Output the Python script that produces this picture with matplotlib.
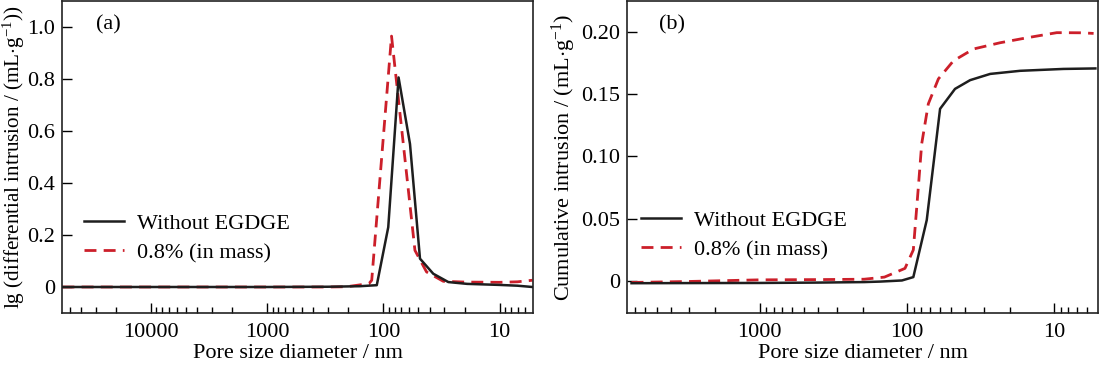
import matplotlib
matplotlib.use("Agg")
import matplotlib.pyplot as plt
from matplotlib.ticker import FixedLocator, FuncFormatter, LogLocator, NullFormatter

plt.rcParams['font.family'] = ['Liberation Serif', 'DejaVu Serif']
plt.rcParams['mathtext.fontset'] = 'custom'
plt.rcParams['mathtext.rm'] = 'Liberation Serif'
plt.rcParams['mathtext.it'] = 'Liberation Serif:italic'

# ---- data: panel (a) differential intrusion ----
a_black_x = [58000, 20000, 5000, 1000, 300, 160, 114, 90.8, 74, 59, 48.4, 37.2, 27.6, 19, 10, 7, 5.2]
a_black_y = [0, 0, 0, 0, 0.001, 0.003, 0.007, 0.23, 0.806, 0.55, 0.109, 0.051, 0.019, 0.012, 0.008, 0.005, 0.0]
a_red_x = [58000, 20000, 5000, 1000, 300, 208, 133, 126, 85.1, 53.5, 42.5, 30.5, 20, 10, 7, 5.2]
a_red_y = [0, 0, 0, 0, 0, 0.001, 0.013, 0.026, 0.965, 0.141, 0.058, 0.022, 0.019, 0.018, 0.02, 0.026]

# ---- data: panel (b) cumulative intrusion ----
b_black_x = [7400, 3000, 1000, 400, 195, 152, 108, 90.4, 73.3, 59.5, 47.1, 37.2, 27.2, 17, 8.65, 5.25]
b_black_y = [-0.0019, -0.0018, -0.0017, -0.0014, -0.001, -0.0006, 0.0003, 0.003, 0.0487, 0.138, 0.154, 0.161, 0.166, 0.1685, 0.170, 0.1704]
b_red_x = [7400, 3000, 1000, 400, 195, 142, 103, 90.4, 83.6, 79.3, 71.5, 61.1, 48.3, 35.3, 23.3, 15.3, 9.6, 6.67, 5.4]
b_red_y = [-0.0013, -0.0005, 0.0008, 0.001, 0.0013, 0.003, 0.010, 0.0248, 0.075, 0.11, 0.142, 0.162, 0.1765, 0.186, 0.191, 0.195, 0.1991, 0.199, 0.1985]

labels = ["Without EGDGE", "0.8% (in mass)"]
a_xticks = [10000, 1000, 100, 10]
b_xticks = [1000, 100, 10]
a_yticks = [0, 0.2, 0.4, 0.6, 0.8, 1.0]
b_yticks = [0, 0.05, 0.10, 0.15, 0.20]

BLACK = '#1e1e1e'
RED = '#cc1f2a'
FS = 16

fig = plt.figure(figsize=(11, 3.65), dpi=100)
ax1 = fig.add_axes([62/1100, 1-313/365, 471/1100, 312/365])
ax2 = fig.add_axes([627/1100, 1-313/365, 471/1100, 312/365])


def fmt_a(v, pos):
    return "0" if abs(v) < 1e-9 else f"{v:.1f}"


def fmt_b(v, pos):
    return "0" if abs(v) < 1e-9 else f"{v:.2f}"


def style(ax, xlim, ylim, xticks, yticks, yfmt):
    ax.set_xscale('log')
    ax.set_xlim(*xlim)
    ax.set_ylim(*ylim)
    ax.xaxis.set_major_locator(FixedLocator(xticks))
    ax.xaxis.set_major_formatter(FuncFormatter(lambda v, p: f"{int(round(v))}"))
    ax.xaxis.set_minor_locator(LogLocator(base=10, subs=range(2, 10), numticks=20))
    ax.xaxis.set_minor_formatter(NullFormatter())
    ax.yaxis.set_major_locator(FixedLocator(yticks))
    ax.yaxis.set_major_formatter(FuncFormatter(yfmt))
    ax.tick_params(axis='both', which='major', direction='in', length=7, width=1,
                   labelsize=FS, pad=5, top=False, right=False)
    ax.tick_params(axis='x', which='major', pad=7)
    ax.tick_params(axis='x', which='minor', direction='in', length=4, width=1, top=False)
    ax.tick_params(axis='y', which='minor', left=False, right=False)
    for s in ax.spines.values():
        s.set_linewidth(1.2)
        s.set_color('#222222')
    ax.set_xlabel("Pore size diameter / nm", fontsize=FS, labelpad=2)


style(ax1, (58500, 5.15), (-0.1, 1.1), a_xticks, a_yticks, fmt_a)
style(ax2, (7943, 5.04), (-0.0258, 0.2245), b_xticks, b_yticks, fmt_b)

for ax, bx, by, rx, ry in [(ax1, a_black_x, a_black_y, a_red_x, a_red_y),
                            (ax2, b_black_x, b_black_y, b_red_x, b_red_y)]:
    ax.plot(bx, by, color=BLACK, lw=1.8, label=labels[0], zorder=3)
    ax.plot(rx, ry, color=RED, lw=2.0, dashes=(4.3, 2.6), label=labels[1], zorder=2)

ax1.set_ylabel(r"lg (differential intrusion / (mL$\cdot$g$^{-1}$))", fontsize=15.2, labelpad=0)
ax2.set_ylabel(r"Cumulative intrusion / (mL$\cdot$g$^{-1}$)", fontsize=16, labelpad=2)

ax1.text(0.072, 0.925, "(a)", transform=ax1.transAxes, fontsize=FS, va='center', ha='left')
ax2.text(0.069, 0.925, "(b)", transform=ax2.transAxes, fontsize=FS, va='center', ha='left')

leg_kw = dict(frameon=False, fontsize=FS, handlelength=1.8, handletextpad=0.6,
              labelspacing=0.4, borderpad=0, borderaxespad=0, loc='center left')
ax1.legend(bbox_to_anchor=(0.046, 0.24), **leg_kw)
ax2.legend(bbox_to_anchor=(0.03, 0.25), **leg_kw)

fig.savefig("out.png", dpi=100)
